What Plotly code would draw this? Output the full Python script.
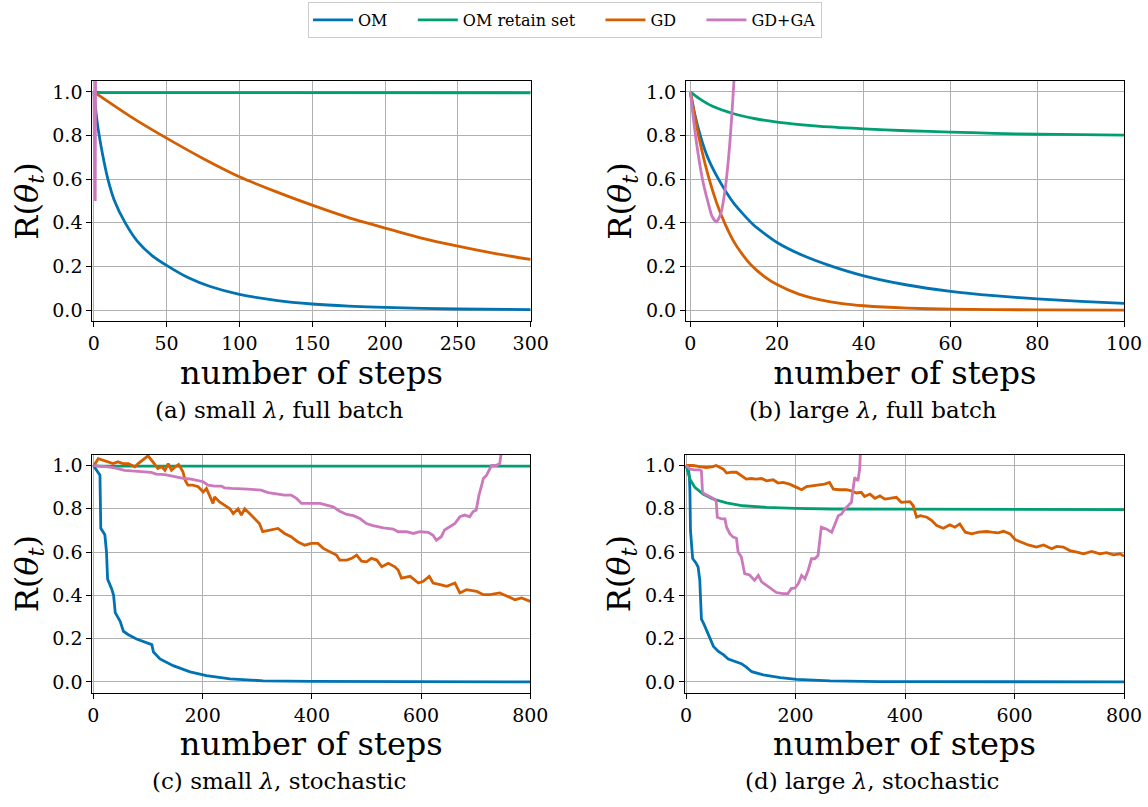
import plotly.graph_objects as go

# ---------------- data ----------------
series_names = ["OM", "OM retain set", "GD", "GD+GA"]
series_colors = ["#0173b2", "#029e73", "#d55e00", "#cc78bc"]

y_ticks = [0.0, 0.2, 0.4, 0.6, 0.8, 1.0]
y_tick_labels = ["0.0", "0.2", "0.4", "0.6", "0.8", "1.0"]
x_ticks_a = [0, 50, 100, 150, 200, 250, 300]
x_ticks_b = [0, 20, 40, 60, 80, 100]
x_ticks_cd = [0, 200, 400, 600, 800]

captions = ["(a) small <i>λ</i>, full batch", "(b) large <i>λ</i>, full batch",
            "(c) small <i>λ</i>, stochastic", "(d) large <i>λ</i>, stochastic"]

# (a) small lambda, full batch
a_om_x = [0, 2, 3.5, 6, 9.7, 14, 22, 30, 40, 50, 65, 80, 100, 125, 150, 175, 200, 250, 300]
a_om_y = [1.0, 0.88, 0.81, 0.715, 0.6, 0.505, 0.395, 0.315, 0.25, 0.205, 0.148, 0.108,
          0.072, 0.045, 0.028, 0.018, 0.012, 0.005, 0.002]
a_ret_x = [0, 5, 300]
a_ret_y = [1.0, 0.997, 0.996]
a_gd_x = [0, 25, 50, 75, 100, 125, 150, 175, 200, 225, 250, 275, 300]
a_gd_y = [1.0, 0.888, 0.788, 0.695, 0.611, 0.543, 0.481, 0.424, 0.376, 0.33, 0.293, 0.26, 0.232]
a_ga_x = [0, 1, 2]
a_ga_y = [1.0, 0.5, 3.0]

# (b) large lambda, full batch
b_om_x = [0, 1, 2.3, 4, 6.5, 10, 14.6, 20, 26, 32, 40, 50, 60, 70, 80, 90, 100]
b_om_y = [1.0, 0.9, 0.8, 0.7, 0.6, 0.49, 0.39, 0.31, 0.25, 0.205, 0.157, 0.115, 0.086,
          0.066, 0.051, 0.04, 0.031]
b_ret_x = [0, 2, 5, 10, 15, 20, 30, 40, 50, 60, 70, 80, 90, 100]
b_ret_y = [1.0, 0.97, 0.935, 0.9, 0.877, 0.862, 0.842, 0.831, 0.822, 0.816, 0.81, 0.806,
           0.804, 0.802]
b_gd_x = [0, 2, 4, 6, 8, 10, 12, 14, 17, 20, 25, 30, 35, 40, 50, 60, 70, 80, 100]
b_gd_y = [1.0, 0.79, 0.625, 0.495, 0.395, 0.315, 0.255, 0.207, 0.155, 0.117, 0.073, 0.047,
          0.03, 0.02, 0.009, 0.004, 0.002, 0.001, 0.0]
b_ga_x = [0, 1, 2, 3, 4, 5, 6, 7, 8, 9, 10, 11]
b_ga_y = [1.0, 0.83, 0.69, 0.58, 0.5, 0.43, 0.405, 0.44, 0.55, 0.74, 1.03, 1.4]

# (c) small lambda, stochastic
c_om_x = [0, 6, 12, 13.5, 21, 24, 26, 33.5, 37, 40, 49, 55, 64, 79, 100, 107, 110, 122,
          146, 177, 207, 250, 311, 402, 800]
c_om_y = [1.0, 0.98, 0.955, 0.71, 0.68, 0.6, 0.475, 0.43, 0.4, 0.32, 0.28, 0.234, 0.218,
          0.198, 0.18, 0.172, 0.138, 0.106, 0.075, 0.046, 0.029, 0.014, 0.005, 0.002, 0.0]
c_ret_x = [0, 10, 800]
c_ret_y = [1.0, 0.997, 0.997]
c_gd_x = [0, 1, 9, 18, 27, 36, 45, 54, 64, 70, 76, 82, 91, 100, 109, 118, 125, 131, 137,
          143, 150, 156, 164, 168, 173, 182, 192, 201, 207, 213, 219, 222, 231, 240, 250,
          256, 265, 271, 277, 286, 295, 304, 310, 323, 338, 350, 362, 374, 387, 399, 411,
          421, 433, 445, 451, 464, 473, 482, 491, 500, 509, 519, 528, 540, 552, 558, 564,
          580, 595, 604, 615, 622, 635, 647, 662, 671, 683, 702, 714, 726, 744, 760, 772,
          784, 800]
c_gd_y = [1.0, 1.0, 1.032, 1.025, 1.017, 1.009, 1.017, 1.009, 1.009, 1.0, 0.994, 1.009,
          1.025, 1.045, 1.017, 0.986, 0.994, 0.978, 1.009, 0.978, 0.994, 1.005, 0.971,
          0.932, 0.909, 0.909, 0.902, 0.878, 0.894, 0.863, 0.825, 0.855, 0.832, 0.817, 0.80,
          0.778, 0.80, 0.771, 0.80, 0.778, 0.755, 0.732, 0.694, 0.702, 0.709, 0.686, 0.671,
          0.648, 0.632, 0.64, 0.64, 0.617, 0.602, 0.586, 0.563, 0.563, 0.571, 0.586, 0.558,
          0.555, 0.571, 0.563, 0.532, 0.548, 0.532, 0.517, 0.48, 0.488, 0.457, 0.465, 0.488,
          0.457, 0.449, 0.442, 0.457, 0.411, 0.426, 0.418, 0.403, 0.403, 0.411, 0.395, 0.38,
          0.388, 0.372]
c_ga_x = [0, 15, 27, 39, 48, 57, 70, 82, 94, 106, 115, 131, 143, 155, 167, 179, 192, 201,
          210, 222, 234, 240, 253, 271, 283, 295, 307, 320, 332, 350, 362, 372, 381, 393,
          415, 427, 439, 451, 464, 476, 488, 500, 512, 531, 549, 558, 573, 586, 598, 613,
          622, 628, 637, 643, 653, 662, 671, 680, 689, 695, 701, 706, 711, 714, 720, 726,
          729, 738, 744, 747, 752]
c_ga_y = [1.0, 0.998, 0.994, 0.989, 0.983, 0.978, 0.975, 0.974, 0.971, 0.968, 0.96, 0.958,
          0.952, 0.943, 0.94, 0.937, 0.928, 0.925, 0.909, 0.905, 0.905, 0.897, 0.894, 0.894,
          0.891, 0.889, 0.886, 0.875, 0.871, 0.863, 0.863, 0.848, 0.825, 0.825, 0.825,
          0.817, 0.809, 0.789, 0.774, 0.768, 0.755, 0.732, 0.722, 0.712, 0.706, 0.694,
          0.694, 0.686, 0.694, 0.691, 0.678, 0.655, 0.671, 0.702, 0.717, 0.732, 0.763,
          0.771, 0.763, 0.786, 0.794, 0.863, 0.909, 0.94, 0.955, 0.986, 1.0, 1.0, 1.009,
          1.063, 1.2]

# (d) large lambda, stochastic
d_om_x = [0, 4, 6, 7, 8, 10, 12, 18, 22, 25, 26.5, 28, 32, 38, 44, 50, 59, 68, 77, 86,
          101, 110, 120, 141, 172, 202, 263, 354, 500, 800]
d_om_y = [1.0, 0.985, 0.95, 0.88, 0.7, 0.62, 0.57, 0.55, 0.53, 0.47, 0.33, 0.29, 0.27,
          0.233, 0.195, 0.164, 0.141, 0.126, 0.106, 0.098, 0.084, 0.068, 0.047, 0.032, 0.02,
          0.012, 0.005, 0.0015, 0.0003, 0.0]
d_ret_x = [0, 7, 16, 31, 49, 74, 104, 147, 200, 268, 415, 800]
d_ret_y = [1.0, 0.937, 0.899, 0.868, 0.845, 0.827, 0.814, 0.807, 0.802, 0.799, 0.798, 0.796]
d_gd_x = [0, 13, 25, 37, 49, 55, 62, 68, 74, 83, 92, 101, 110, 119, 128, 138, 147, 159,
          168, 177, 189, 202, 211, 220, 232, 244, 253, 262, 269, 281, 293, 302, 311, 320,
          326, 336, 345, 354, 363, 372, 384, 393, 402, 409, 415, 421, 428, 440, 449, 458,
          470, 482, 491, 500, 510, 522, 534, 549, 558, 570, 580, 592, 601, 610, 625, 640,
          653, 668, 677, 689, 701, 714, 726, 741, 756, 768, 781, 793, 800]
d_gd_y = [1.0, 1.0, 0.995, 0.991, 0.995, 1.0, 0.991, 0.983, 0.965, 0.969, 0.969, 0.952,
          0.937, 0.94, 0.937, 0.94, 0.929, 0.934, 0.919, 0.922, 0.914, 0.899, 0.888, 0.903,
          0.906, 0.909, 0.914, 0.922, 0.891, 0.888, 0.888, 0.883, 0.873, 0.876, 0.857,
          0.868, 0.848, 0.86, 0.845, 0.848, 0.853, 0.83, 0.83, 0.833, 0.814, 0.761, 0.768,
          0.761, 0.745, 0.722, 0.71, 0.726, 0.715, 0.73, 0.692, 0.684, 0.692, 0.695, 0.692,
          0.689, 0.696, 0.684, 0.658, 0.649, 0.633, 0.623, 0.633, 0.615, 0.626, 0.623,
          0.607, 0.6, 0.592, 0.603, 0.592, 0.597, 0.587, 0.592, 0.581]
d_ga_x = [0, 7, 16, 25, 28, 30, 34, 43, 52, 55, 57, 65, 71, 74, 80, 86, 92, 95, 101, 104,
          107, 116, 125, 132, 138, 147, 156, 165, 177, 186, 192, 199, 205, 211, 217, 223,
          229, 235, 241, 244, 247, 256, 266, 272, 278, 284, 290, 296, 302, 305, 308, 314,
          317, 318.5, 321]
d_ga_y = [1.0, 0.983, 0.98, 0.98, 0.975, 0.876, 0.868, 0.857, 0.845, 0.833, 0.761, 0.753,
          0.753, 0.715, 0.684, 0.669, 0.664, 0.6, 0.577, 0.538, 0.5, 0.494, 0.469, 0.492,
          0.462, 0.446, 0.431, 0.413, 0.408, 0.408, 0.431, 0.434, 0.454, 0.492, 0.477,
          0.515, 0.569, 0.569, 0.584, 0.669, 0.715, 0.707, 0.692, 0.73, 0.768, 0.776,
          0.799, 0.814, 0.83, 0.891, 0.945, 0.929, 0.983, 1.06, 1.3]

# ---------------- figure ----------------
W, H = 1148, 807
FONT = "DejaVu Serif"
TICK_SIZE = 19
TITLE_SIZE = 32
PAD = "\u00a0" * 4  # extra gap after legend entries, as in the reference

panels = [
    dict(data=[(a_om_x, a_om_y), (a_ret_x, a_ret_y), (a_gd_x, a_gd_y), (a_ga_x, a_ga_y)],
         xr=[-1, 300], xt=x_ticks_a, xd=[92.3, 530.7], yd=[81, 321], smooth=True),
    dict(data=[(b_om_x, b_om_y), (b_ret_x, b_ret_y), (b_gd_x, b_gd_y), (b_ga_x, b_ga_y)],
         xr=[-1, 100], xt=x_ticks_b, xd=[686, 1124], yd=[81, 321], smooth=True),
    dict(data=[(c_om_x, c_om_y), (c_ret_x, c_ret_y), (c_gd_x, c_gd_y), (c_ga_x, c_ga_y)],
         xr=[-2, 800], xt=x_ticks_cd, xd=[92.3, 530.3], yd=[454.7, 692.7], smooth=False),
    dict(data=[(d_om_x, d_om_y), (d_ret_x, d_ret_y), (d_gd_x, d_gd_y), (d_ga_x, d_ga_y)],
         xr=[-2, 800], xt=x_ticks_cd, xd=[685, 1124], yd=[454.7, 692.7], smooth=False),
]
caption_pos = [(279, 410), (873, 410), (279, 781), (872, 781)]

fig = go.Figure()
layout = dict(
    width=W, height=H,
    margin=dict(l=0, r=0, t=0, b=0, autoexpand=False),
    paper_bgcolor="white", plot_bgcolor="white",
    font=dict(family=FONT, color="black", size=16),
    showlegend=True,
    legend=dict(orientation="h", x=565 / W, xanchor="center", y=1 - 2 / H, yanchor="top",
                bordercolor="#cccccc", borderwidth=1, bgcolor="white",
                font=dict(family=FONT, size=16, color="black"),
                itemwidth=40),
)
annotations = []

for i, p in enumerate(panels):
    k = "" if i == 0 else str(i + 1)
    xa, ya = "x" + k, "y" + k
    for j, (xs, ys) in enumerate(p["data"]):
        shape = "spline" if (p["smooth"] and len(xs) > 3) else "linear"
        label = series_names[j] + (PAD if j < len(series_names) - 1 else "")
        fig.add_trace(go.Scatter(
            x=xs, y=ys, mode="lines", name=label,
            line=dict(color=series_colors[j], width=2.8, shape=shape,
                      smoothing=0.6 if shape == "spline" else None),
            xaxis=xa, yaxis=ya, showlegend=(i == 0), legendgroup=series_names[j],
            hoverinfo="skip"))
    layout["xaxis" + k] = dict(
        domain=[p["xd"][0] / W, p["xd"][1] / W], range=p["xr"], anchor=ya,
        tickvals=p["xt"], ticktext=[str(t) for t in p["xt"]],
        showline=True, mirror=True, linecolor="black", linewidth=1,
        ticks="outside", ticklen=5, tickcolor="black", tickwidth=1,
        showgrid=True, gridcolor="#b0b0b0", gridwidth=1, zeroline=False,
        tickfont=dict(family=FONT, size=TICK_SIZE, color="black"),
        title=dict(text="number of steps",
                   font=dict(family=FONT, size=TITLE_SIZE, color="black"), standoff=3),
    )
    layout["yaxis" + k] = dict(
        domain=[1 - p["yd"][1] / H, 1 - p["yd"][0] / H], range=[-0.05, 1.05], anchor=xa,
        tickvals=y_ticks, ticktext=y_tick_labels,
        showline=True, mirror=True, linecolor="black", linewidth=1,
        ticks="outside", ticklen=5, tickcolor="black", tickwidth=1,
        showgrid=True, gridcolor="#b0b0b0", gridwidth=1, zeroline=False,
        tickfont=dict(family=FONT, size=TICK_SIZE, color="black"),
        title=dict(text="R(<i>θ</i><sub><i>t</i></sub>)",
                   font=dict(family=FONT, size=TITLE_SIZE, color="black"), standoff=4),
    )
    cx, cy = caption_pos[i]
    annotations.append(dict(text=captions[i], x=cx / W, y=1 - cy / H, xref="paper",
                            yref="paper", xanchor="center", yanchor="middle",
                            showarrow=False,
                            font=dict(family=FONT, size=23, color="black")))

layout["annotations"] = annotations
fig.update_layout(**layout)
fig.write_html("out.html")
